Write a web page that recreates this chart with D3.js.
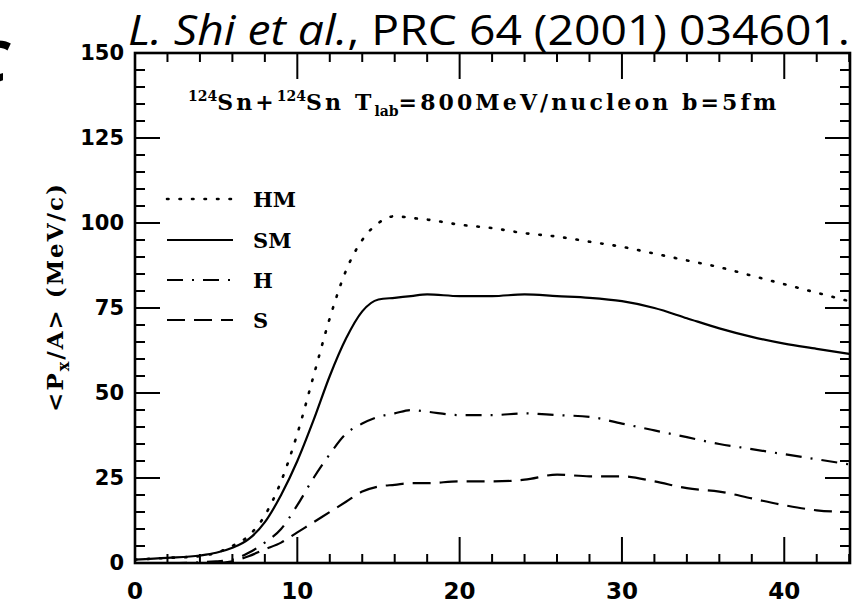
<!DOCTYPE html>
<html>
<head>
  <script src="https://d3js.org/d3.v7.min.js"></script>
  <style>
    body { margin: 0; background: #fff; }
  </style>
</head>
<body>
  <script>
    // impact parameter axis (no title in the picture)
    var xs = [0, 2, 4, 5, 6, 7, 8, 9, 10, 11, 12, 13, 14, 15, 16, 17, 18, 20, 22, 24, 26, 28, 30, 32, 34, 36, 38, 40, 42, 44];
    var hm = [1, 1.5, 2, 3, 5, 8, 14, 24, 38, 55, 72, 86, 95, 100, 102, 101.5, 101, 99.5, 98.5, 97, 96, 94.5, 93, 91, 89, 87, 84.5, 82, 79.5, 77];
    var sm = [1, 1.5, 2.2, 3, 4.5, 7, 12, 20, 30, 42, 55, 66, 74, 77.5, 78, 78.5, 79, 78.5, 78.5, 79, 78.5, 78, 77, 75, 72, 69, 66.5, 64.5, 63, 61.5];
    var hh = [0, 0, 0.2, 0.5, 1, 3, 6, 10, 17, 25, 32, 38, 41, 43, 44, 45, 44.5, 43.5, 43.5, 44, 43.5, 43, 41, 39, 37, 35, 33.5, 32, 30.5, 29];
    var ss = [0, 0, 0, 0, 0.5, 2, 4, 6, 9, 12, 15, 18, 21, 22.5, 23, 23.5, 23.5, 24, 24, 24.5, 26, 25.5, 25.5, 24, 22, 21, 19, 17, 15.5, 15];
    var seriesNames = ["HM", "SM", "H", "S"];
    var xTicks = [0, 10, 20, 30, 40];
    var yTicks = [0, 25, 50, 75, 100, 125, 150];

    var width = 861, height = 605;
    var pL = 135, pR = 850, pT = 53, pB = 563;

    var svg = d3.select("body").append("svg")
      .attr("width", width)
      .attr("height", height);

    var x = d3.scaleLinear().domain([0, 44.05]).range([pL, pR]);
    var y = d3.scaleLinear().domain([0, 150]).range([pB, pT]);

    // citation at the top
    var cite = svg.append("text")
      .attr("x", 128).attr("y", 45)
      .style("font-family", "'Open Sans', sans-serif")
      .style("font-size", "42px")
      .attr("textLength", 722)
      .attr("lengthAdjust", "spacingAndGlyphs");
    cite.append("tspan").style("font-style", "italic").text("L. Shi et al.");
    cite.append("tspan").text(", PRC 64 (2001) 034601.");

    // clipped glyph at the left edge
    svg.append("text")
      .attr("x", -27).attr("y", 82)
      .style("font-family", "'Open Sans', sans-serif")
      .style("font-weight", "bold")
      .style("font-style", "italic")
      .style("font-size", "58px")
      .text("C");

    // ticks
    var xMinor = d3.range(0, 45, 2);
    var yMinor = d3.range(0, 151, 5);
    var tk = svg.append("g").attr("stroke", "#000").attr("stroke-width", 2);
    xMinor.forEach(function (v) {
      var len = v % 10 === 0 ? 26 : 9;
      tk.append("line").attr("x1", x(v)).attr("x2", x(v)).attr("y1", pB).attr("y2", pB - len);
      tk.append("line").attr("x1", x(v)).attr("x2", x(v)).attr("y1", pT).attr("y2", pT + len);
    });
    yMinor.forEach(function (v) {
      var len = v % 25 === 0 ? 25 : 10;
      tk.append("line").attr("x1", pL).attr("x2", pL + len).attr("y1", y(v)).attr("y2", y(v));
      tk.append("line").attr("x1", pR).attr("x2", pR - len).attr("y1", y(v)).attr("y2", y(v));
    });

    // curves
    svg.append("clipPath").attr("id", "clip")
      .append("rect").attr("x", pL).attr("y", pT).attr("width", pR - pL).attr("height", pB - pT);

    var dashes = {
      HM: "1.5,11",
      SM: null,
      H: "16,9,2,9",
      S: "18,9"
    };
    var seriesData = { HM: hm, SM: sm, H: hh, S: ss };
    var line = d3.line()
      .x(function (d) { return x(d[0]); })
      .y(function (d) { return y(d[1]); })
      .curve(d3.curveMonotoneX);

    seriesNames.forEach(function (name) {
      var pts = xs.map(function (v, i) { return [v, seriesData[name][i]]; });
      svg.append("path")
        .datum(pts)
        .attr("clip-path", "url(#clip)")
        .attr("fill", "none")
        .attr("stroke", "#000")
        .attr("stroke-width", name === "HM" ? 2.6 : 2.2)
        .attr("stroke-linecap", name === "HM" ? "round" : "butt")
        .attr("stroke-dasharray", dashes[name])
        .attr("d", line);
    });

    // frame
    svg.append("rect")
      .attr("x", pL).attr("y", pT)
      .attr("width", pR - pL).attr("height", pB - pT)
      .attr("fill", "none").attr("stroke", "#000").attr("stroke-width", 2.6);

    // tick labels
    svg.append("g").selectAll("text").data(xTicks).enter().append("text")
      .attr("x", function (d) { return x(d); })
      .attr("y", 599)
      .attr("text-anchor", "middle")
      .style("font-family", "'DejaVu Sans', sans-serif")
      .style("font-size", "23px")
      .style("font-weight", "bold")
      .text(function (d) { return d; });

    svg.append("g").selectAll("text").data(yTicks).enter().append("text")
      .attr("x", 124)
      .attr("y", function (d) { return y(d) + 7; })
      .attr("text-anchor", "end")
      .style("font-family", "'DejaVu Sans', sans-serif")
      .style("font-size", "21px")
      .style("font-weight", "bold")
      .text(function (d) { return d; });

    // y axis title
    var yt = svg.append("text")
      .attr("transform", "translate(63,297) rotate(-90)")
      .attr("text-anchor", "middle")
      .style("font-family", "'DejaVu Serif', serif")
      .style("font-weight", "bold")
      .style("font-size", "23px")
      .style("letter-spacing", "2px");
    yt.append("tspan").text("<P");
    yt.append("tspan").attr("dy", 6).style("font-size", "16px").text("x");
    yt.append("tspan").attr("dy", -6).text("/A>  (MeV/c)");

    // reaction label
    var rl = svg.append("text")
      .attr("x", 188).attr("y", 110)
      .style("font-family", "'DejaVu Serif', serif")
      .style("font-weight", "bold")
      .style("font-size", "22px")
      .style("letter-spacing", "3.1px");
    rl.append("tspan").attr("dy", -9).style("font-size", "14px").style("letter-spacing", "0px").text("124");
    rl.append("tspan").attr("dy", 9).text("Sn+");
    rl.append("tspan").attr("dy", -9).style("font-size", "14px").style("letter-spacing", "0px").text("124");
    rl.append("tspan").attr("dy", 9).text("Sn T");
    rl.append("tspan").attr("dy", 6).style("font-size", "14px").style("letter-spacing", "0px").text("lab");
    rl.append("tspan").attr("dy", -6).text("=800MeV/nucleon b=5fm");

    // legend
    var legY = [199, 240, 280, 320];
    var lg = svg.append("g");
    seriesNames.forEach(function (name, i) {
      lg.append("line")
        .attr("x1", 167).attr("x2", 233)
        .attr("y1", legY[i]).attr("y2", legY[i])
        .attr("stroke", "#000")
        .attr("stroke-width", name === "HM" ? 2.6 : 2.2)
        .attr("stroke-linecap", name === "HM" ? "round" : "butt")
        .attr("stroke-dasharray", dashes[name]);
      lg.append("text")
        .attr("x", 253).attr("y", legY[i] + 8)
        .style("font-family", "'DejaVu Serif', serif")
        .style("font-weight", "bold")
        .style("font-size", "21px")
        .text(name);
    });
  </script>
</body>
</html>
